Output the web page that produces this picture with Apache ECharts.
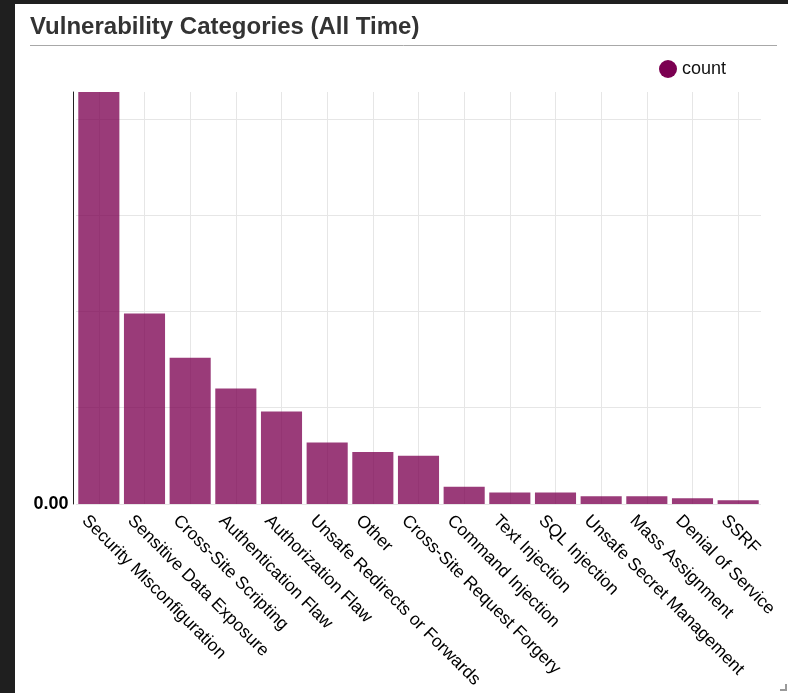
<!DOCTYPE html>
<html>
<head>
<meta charset="utf-8">
<title>Vulnerability Categories (All Time)</title>
<script src="https://cdn.jsdelivr.net/npm/echarts@6/dist/echarts.min.js"></script>
<style>
  html, body { margin: 0; padding: 0; background: #ffffff; }
  #chart { width: 788px; height: 693px; }
</style>
</head>
<body>
<div id="chart"></div>
<script>
// Vulnerability findings per category, all time
const categories = [
  'Security Misconfiguration',
  'Sensitive Data Exposure',
  'Cross-Site Scripting',
  'Authentication Flaw',
  'Authorization Flaw',
  'Unsafe Redirects or Forwards',
  'Other',
  'Cross-Site Request Forgery',
  'Command Injection',
  'Text Injection',
  'SQL Injection',
  'Unsafe Secret Management',
  'Mass Assignment',
  'Denial of Service',
  'SSRF'
];
const counts = [214, 99, 76, 60, 48, 32, 27, 25, 9, 6, 6, 4, 4, 3, 2];
const seriesName = 'count';
const titleText = 'Vulnerability Categories (All Time)';

const FONT = '"Liberation Sans", Arial, Helvetica, sans-serif';
const BASE = '#7b0051';

const chart = echarts.init(document.getElementById('chart'), null, { renderer: 'canvas' });

chart.setOption({
  backgroundColor: '#ffffff',
  animation: false,
  textStyle: { fontFamily: FONT },
  title: {
    text: titleText,
    left: 30,
    top: 15,
    padding: 0,
    textStyle: { fontFamily: FONT, fontSize: 24, fontWeight: 'bold', color: '#333333' }
  },
  legend: {
    data: [seriesName],
    left: 659,
    top: 60,
    padding: 0,
    icon: 'circle',
    itemWidth: 18,
    itemHeight: 18,
    itemStyle: { color: BASE, opacity: 1 },
    textStyle: { fontFamily: FONT, fontSize: 18, color: '#111111' }
  },
  grid: { left: 76, top: 92, width: 685, height: 412, containLabel: false },
  xAxis: {
    type: 'category',
    data: categories,
    axisLine: { show: false },
    axisTick: { show: false },
    splitLine: {
      show: true,
      alignWithLabel: true,
      lineStyle: { color: '#e6e6e6', width: 1 }
    },
    axisLabel: {
      interval: 0,
      rotate: -45,
      margin: 0,
      verticalAlign: 'top',
      padding: [11, 0, 0, 0],
      fontFamily: FONT,
      fontSize: 17.5,
      color: '#000000'
    }
  },
  yAxis: {
    type: 'value',
    min: 0,
    max: Math.max.apply(null, counts),
    interval: 50,
    offset: 2.5,
    axisLine: { show: true, lineStyle: { color: '#222222', width: 1 } },
    axisTick: { show: false },
    splitLine: {
      show: true,
      showMaxLine: false,
      lineStyle: { color: '#e6e6e6', width: 1 }
    },
    axisLabel: {
      margin: 5,
      fontFamily: FONT,
      fontSize: 18,
      fontWeight: 'bold',
      color: '#000000',
      showMaxLabel: false,
      formatter: function (v) { return v === 0 ? v.toFixed(2) : ''; }
    }
  },
  series: [{
    name: seriesName,
    type: 'bar',
    data: counts,
    barCategoryGap: '10%',
    itemStyle: { color: BASE, opacity: 0.77 },
    emphasis: { disabled: true }
  }],
  graphic: [
    // rule under the heading
    { type: 'line', shape: { x1: 30, y1: 45.5, x2: 777, y2: 45.5 },
      style: { stroke: '#a8a8a8', lineWidth: 1 }, silent: true },
    // dark window edges
    { type: 'rect', shape: { x: 0, y: 0, width: 15, height: 693 },
      style: { fill: '#1f1f1f' }, silent: true, z: 100 },
    { type: 'rect', shape: { x: 0, y: 0, width: 788, height: 4 },
      style: { fill: '#1f1f1f' }, silent: true, z: 100 },
    // resize grip in the lower right corner
    { type: 'polyline', shape: { points: [[786, 684], [786, 690], [780, 690]] },
      style: { stroke: '#9a9a9a', lineWidth: 2, fill: null }, silent: true }
  ]
});
</script>
</body>
</html>
